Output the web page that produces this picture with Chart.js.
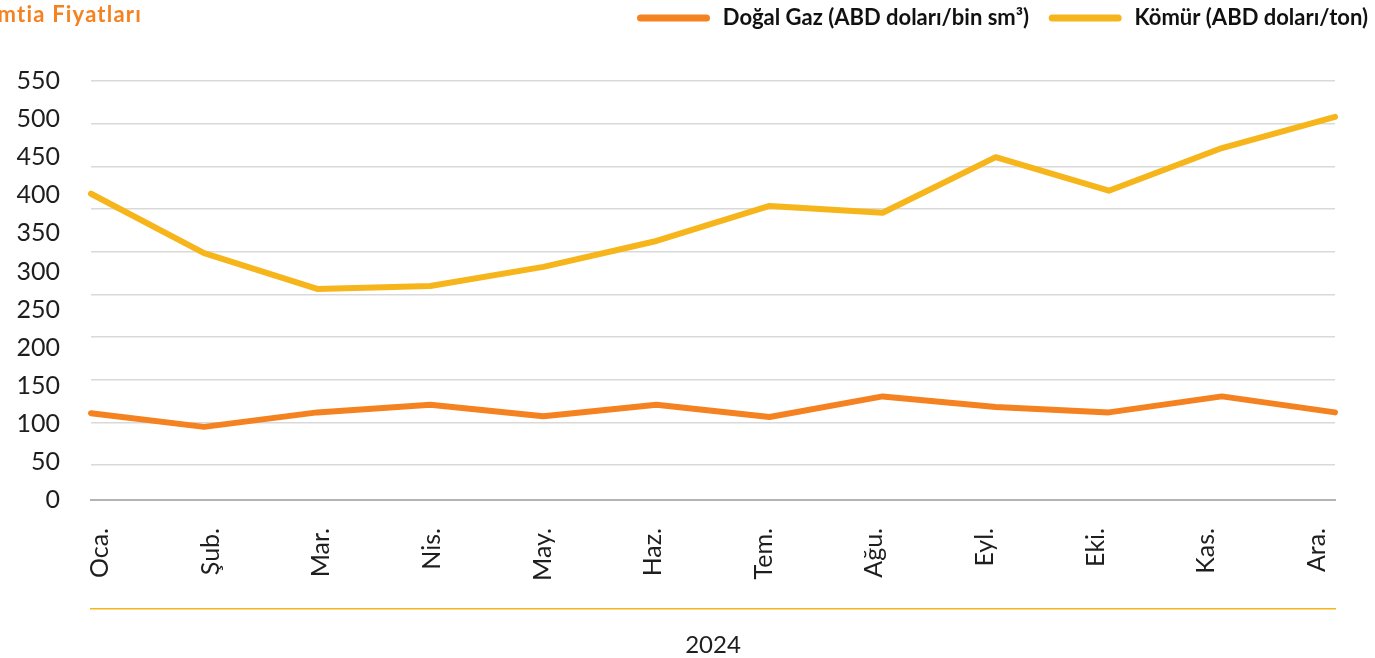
<!DOCTYPE html>
<html lang="tr">
<head>
<meta charset="utf-8">
<title>Emtia Fiyatları</title>
<script src="https://cdn.jsdelivr.net/npm/chart.js@4.4.1/dist/chart.umd.min.js"></script>
<style>
  html, body { margin: 0; padding: 0; background: #fff; }
  #wrap { position: relative; width: 1375px; height: 658px; overflow: hidden; }
  #title { position: absolute; left: -16px; top: 0px; font: 700 22px Lato, sans-serif; letter-spacing: 1.2px; color: #F58220; white-space: nowrap; }
</style>
</head>
<body>
<div id="wrap">
  <canvas id="lineChart" width="1375" height="658"></canvas>
  <div id="title">Emtia Fiyatları</div>
</div>
<script>
// values
var months = ['Oca.', 'Şub.', 'Mar.', 'Nis.', 'May.', 'Haz.', 'Tem.', 'Ağu.', 'Eyl.', 'Eki.', 'Kas.', 'Ara.'];
var gasPrices = [114, 96, 115, 125, 110, 125, 109, 136, 122, 115, 136, 115];
var coalPrices = [402, 324, 277, 281, 306, 340, 386, 377, 450, 406, 462, 503];
var yTicks = [0, 50, 100, 150, 200, 250, 300, 350, 400, 450, 500, 550];
var yearLabels = ['2024'];

var orange = '#F58220';
var yellow = '#F7B51C';
var tickFont = { family: 'Lato', size: 25 };
var tickColor = '#1e1e1e';

var ctx = document.getElementById('lineChart').getContext('2d');

var mychart = new Chart(ctx, {
  type: 'line',
  data: {
    labels: months,
    datasets: [{
      label: 'Doğal Gaz (ABD doları/bin sm³)',
      data: gasPrices,
      borderColor: orange,
      backgroundColor: orange,
      borderWidth: 6,
      borderCapStyle: 'round',
      borderJoinStyle: 'round',
      pointRadius: 0,
      pointHoverRadius: 0,
      pointStyle: 'line',
      tension: 0
    }, {
      label: 'Kömür (ABD doları/ton)',
      data: coalPrices,
      borderColor: yellow,
      backgroundColor: yellow,
      borderWidth: 6,
      borderCapStyle: 'round',
      borderJoinStyle: 'round',
      pointRadius: 0,
      pointHoverRadius: 0,
      pointStyle: 'line',
      tension: 0
    }]
  },
  options: {
    responsive: false,
    animation: false,
    layout: { padding: 0 },
    plugins: {
      tooltip: { enabled: false },
      legend: {
        position: 'top',
        align: 'end',
        labels: {
          usePointStyle: true,
          pointStyleWidth: 66,
          padding: 7,
          color: '#111',
          font: { family: 'Lato', size: 22, weight: 'bold' },
          generateLabels: function(chart) {
            var items = Chart.defaults.plugins.legend.labels.generateLabels(chart);
            items.forEach(function(it, i) {
              var ds = chart.data.datasets[it.datasetIndex];
              // a little extra room round each entry, like the original legend
              it.text = ' ' + it.text + (i < items.length - 1 ? '   ' : '');
              it.lineCap = 'round';
              it.lineWidth = 7;
              it.strokeStyle = ds.borderColor;
              it.pointStyle = 'line';
            });
            return items;
          }
        }
      }
    },
    scales: {
      x: {
        type: 'category',
        display: false
      },
      xt: {
        type: 'category',
        position: 'top',
        labels: [''],
        grid: { display: false },
        border: { display: false },
        ticks: { display: false },
        afterFit: function(s) { s.height = 42; }
      },
      xl: {
        type: 'linear',
        position: 'bottom',
        weight: 1,
        min: -0.082,
        max: 11.166,
        grid: { display: false },
        border: { color: '#b3b3b3', width: 2 },
        ticks: {
          stepSize: 1,
          includeBounds: false,
          maxTicksLimit: 20,
          autoSkip: false,
          minRotation: 90,
          maxRotation: 90,
          padding: 20,
          font: tickFont,
          color: tickColor,
          callback: function(v) { return months[v]; }
        },
        afterFit: function(s) { s.height = 109; }
      },
      xy: {
        type: 'category',
        position: 'bottom',
        weight: 2,
        labels: yearLabels,
        offset: true,
        grid: { display: false },
        border: { color: yellow, width: 1.5 },
        ticks: { font: { family: 'Lato', size: 24 }, color: tickColor, padding: 14 },
        afterFit: function(s) { s.height = 49; }
      },
      y: {
        type: 'linear',
        position: 'left',
        min: 0,
        max: 550,
        grid: { display: false, drawTicks: false },
        border: { display: false },
        ticks: { font: tickFont, color: tickColor, padding: 31 },
        afterBuildTicks: function(s) {
          s.ticks = yTicks.map(function(v) { return { value: v }; });
        },
        afterFit: function(s) { s.width = 91; }
      },
      yg: {
        type: 'linear',
        position: 'right',
        reverse: true,
        min: 0,
        max: 9.82,
        grid: { color: '#d9d9d9', lineWidth: 1.5, drawTicks: false },
        border: { display: false },
        ticks: { display: false, stepSize: 1, includeBounds: false, maxTicksLimit: 20 },
        afterFit: function(s) { s.width = 40; }
      }
    }
  }
});
</script>
</body>
</html>
